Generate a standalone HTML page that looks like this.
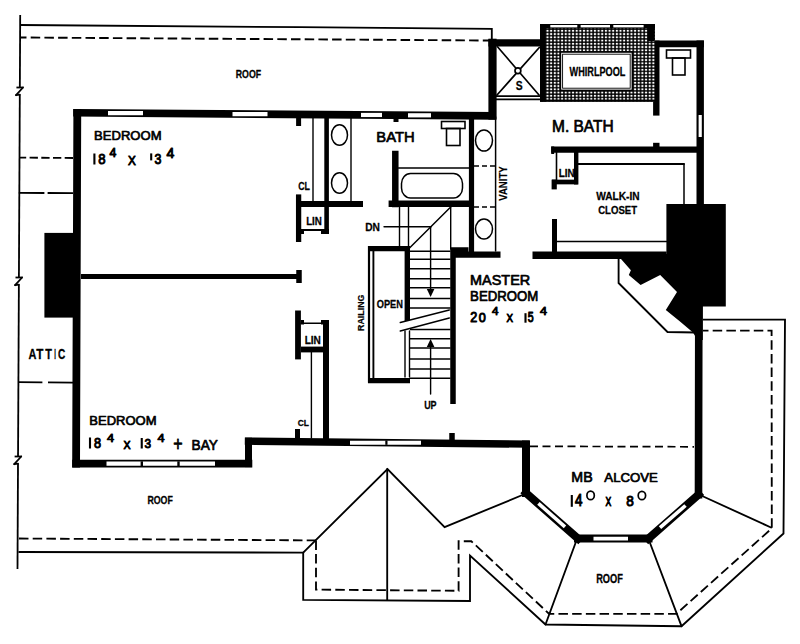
<!DOCTYPE html>
<html><head><meta charset="utf-8"><style>
html,body{margin:0;padding:0;background:#fff;}
svg{display:block;}
text{font-family:"Liberation Sans",sans-serif;}
</style></head><body>
<svg width="800" height="644" viewBox="0 0 800 644">
<rect width="800" height="644" fill="#fff"/>
<g stroke="#000" fill="none">
<line x1="20.2" y1="15" x2="19.845555555555556" y2="87.5" stroke-width="1.8" stroke-linecap="butt"/>
<line x1="19.810844444444445" y1="94.6" x2="18.916666666666664" y2="277.5" stroke-width="1.8" stroke-linecap="butt"/>
<line x1="18.881955555555553" y1="284.6" x2="18.041555555555554" y2="456.5" stroke-width="1.8" stroke-linecap="butt"/>
<line x1="18.006844444444443" y1="463.6" x2="17.491555555555554" y2="569" stroke-width="1.8" stroke-linecap="butt"/>
<line x1="16.428444444444445" y1="87.5" x2="23.428444444444445" y2="87.5" stroke-width="1.8" stroke-linecap="butt"/>
<line x1="23.028444444444442" y1="87.5" x2="16.028444444444442" y2="95.2" stroke-width="1.8" stroke-linecap="round"/>
<line x1="16.028444444444442" y1="95.2" x2="19.828444444444443" y2="94.6" stroke-width="1.8" stroke-linecap="round"/>
<line x1="15.499555555555554" y1="277.5" x2="22.499555555555556" y2="277.5" stroke-width="1.8" stroke-linecap="butt"/>
<line x1="22.099555555555554" y1="277.5" x2="15.099555555555554" y2="285.2" stroke-width="1.8" stroke-linecap="round"/>
<line x1="15.099555555555554" y1="285.2" x2="18.899555555555555" y2="284.6" stroke-width="1.8" stroke-linecap="round"/>
<line x1="14.624444444444444" y1="456.5" x2="21.624444444444446" y2="456.5" stroke-width="1.8" stroke-linecap="butt"/>
<line x1="21.224444444444444" y1="456.5" x2="14.224444444444444" y2="464.2" stroke-width="1.8" stroke-linecap="round"/>
<line x1="14.224444444444444" y1="464.2" x2="18.024444444444445" y2="463.6" stroke-width="1.8" stroke-linecap="round"/>
<polyline points="20,25 300,27.2 491.8,28.8 491.8,39" fill="none" stroke-width="1.85" stroke-linejoin="miter"/>
<line x1="20" y1="37.5" x2="490" y2="40.5" stroke-width="1.9" stroke-dasharray="9.5 4.2" stroke-dashoffset="3"/>
<line x1="19.2" y1="157.6" x2="73" y2="158" stroke-width="1.8" stroke-dasharray="8.3 3.4" stroke-dashoffset="1.3"/>
<line x1="18.8" y1="192.8" x2="73" y2="193.2" stroke-width="1.8" stroke-dasharray="25.6 3.2 40" stroke-dashoffset="0"/>
<line x1="18.4" y1="382.2" x2="73" y2="382.6" stroke-width="1.8" stroke-dasharray="24 5.6 40" stroke-dashoffset="0"/>
<line x1="19" y1="538.5" x2="316" y2="540.4" stroke-width="1.85" stroke-dasharray="9.5 4.2" stroke-dashoffset="0"/>
<polyline points="18.5,552 303.2,552.6 303.2,599.8 470,601 470,555.5 545.5,624.5 681.5,626.2 783.5,533.5 785,319.6 703,319.6" fill="none" stroke-width="1.85" stroke-linejoin="miter"/>
<polyline points="316,540.4 316,589.6 458.6,590.8 458.6,541.2 471.3,541.2 549,613.8 676.4,613.8 771.8,528.4 771.6,330.6 703,330.6" fill="none" stroke-width="1.85" stroke-dasharray="9.5 4.2" stroke-linejoin="miter"/>
<polyline points="303.2,552.6 387.5,469 444.6,527.2 524.8,494" fill="none" stroke-width="1.85" stroke-linejoin="miter"/>
<line x1="387.2" y1="469" x2="387.2" y2="600" stroke-width="1.85" stroke-linecap="round"/>
<line x1="577" y1="539" x2="545.5" y2="624.5" stroke-width="1.85" stroke-linecap="round"/>
<line x1="648.5" y1="539" x2="681.5" y2="626.2" stroke-width="1.85" stroke-linecap="round"/>
<line x1="700" y1="495" x2="771" y2="527.5" stroke-width="1.85" stroke-linecap="round"/>
<polyline points="618.6,258.7 618.6,283 667.5,332 696,332.5" fill="none" stroke-width="1.85" stroke-linejoin="miter"/>
<line x1="530" y1="446.3" x2="694" y2="446.8" stroke-width="1.7" stroke-dasharray="8 4.5" stroke-dashoffset="0"/>
</g>
<g stroke="#000" fill="none">
<line x1="77" y1="112.75" x2="492" y2="115.8625" stroke-width="7.6" stroke-linecap="square"/>
<line x1="108" y1="113.11375" x2="143" y2="113.11375" stroke="#fff" stroke-width="4.2" stroke-linecap="butt"/>
<line x1="232.5" y1="114.0475" x2="267.5" y2="114.0475" stroke="#fff" stroke-width="4.2" stroke-linecap="butt"/>
<line x1="361" y1="114.95875" x2="382" y2="114.95875" stroke="#fff" stroke-width="4.2" stroke-linecap="butt"/>
<line x1="408" y1="115.31875" x2="431" y2="115.31875" stroke="#fff" stroke-width="4.2" stroke-linecap="butt"/>
<line x1="77.3" y1="112.9" x2="76.1" y2="463.5" stroke-width="7.8" stroke-linecap="square"/>
<line x1="76" y1="463.6" x2="248.5" y2="463.6" stroke-width="7.6" stroke-linecap="square"/>
<line x1="106.5" y1="463.6" x2="215" y2="463.6" stroke="#fff" stroke-width="4.2" stroke-linecap="butt"/>
<line x1="141.8" y1="461.3" x2="141.8" y2="466" stroke-width="2.4" stroke-linecap="butt"/>
<line x1="178.5" y1="461.3" x2="178.5" y2="466" stroke-width="2.4" stroke-linecap="butt"/>
<line x1="248.5" y1="441.2" x2="248.5" y2="463.6" stroke-width="7.0" stroke-linecap="square"/>
<line x1="248.5" y1="441.2" x2="526" y2="444.11375" stroke-width="7.4" stroke-linecap="square"/>
<line x1="350" y1="442.63325" x2="421" y2="442.63325" stroke="#fff" stroke-width="4.0" stroke-linecap="butt"/>
<line x1="386.4" y1="440.44375" x2="386.4" y2="444.84375" stroke-width="2.2" stroke-linecap="butt"/>
<line x1="452" y1="433" x2="452" y2="441" stroke-width="5.5" stroke-linecap="butt"/>
<line x1="526" y1="444.5" x2="526" y2="493" stroke-width="8" stroke-linecap="square"/>
<line x1="526" y1="493" x2="578" y2="538.6" stroke-width="8" stroke-linecap="square"/>
<line x1="578" y1="538.6" x2="648.5" y2="538.6" stroke-width="8" stroke-linecap="square"/>
<line x1="648.5" y1="538.6" x2="698.5" y2="494.6" stroke-width="8" stroke-linecap="square"/>
<line x1="698.5" y1="494.6" x2="698.8" y2="305" stroke-width="7.6" stroke-linecap="square"/>
<line x1="538.4" y1="503.4" x2="565" y2="526.8" stroke="#fff" stroke-width="3.6" stroke-linecap="butt"/>
<line x1="593.5" y1="538.6" x2="628" y2="538.6" stroke="#fff" stroke-width="3.8" stroke-linecap="butt"/>
<line x1="660" y1="527.7" x2="685.5" y2="505.5" stroke="#fff" stroke-width="3.6" stroke-linecap="butt"/>
<line x1="700.2" y1="40.6" x2="700.2" y2="206" stroke-width="7.4" stroke-linecap="butt"/>
<line x1="700.2" y1="115" x2="700.2" y2="137" stroke="#fff" stroke-width="3.2" stroke-linecap="butt"/>
<rect x="44.4" y="232.9" width="31" height="84.7" fill="#000" stroke="none"/>
<polygon points="666.4,204 725.8,204 725.8,306.5 702.8,306.5 702.8,340 697.5,340 693,332.4 679.7,321.2 665.8,310 677,291.9 660.2,275.1 640.6,285 628.8,275.1 630.9,270.3 621,259 621,254 666.4,254" fill="#000" stroke="none"/>
<line x1="653" y1="43.9" x2="703.9" y2="43.9" stroke-width="6.6" stroke-linecap="butt"/>
<line x1="656.3" y1="40.6" x2="656.3" y2="115.6" stroke-width="6.4" stroke-linecap="butt"/>
<line x1="656.3" y1="142.8" x2="656.3" y2="150" stroke-width="6.4" stroke-linecap="butt"/>
<line x1="492.5" y1="42.8" x2="492.5" y2="115.5" stroke-width="8.2" stroke-linecap="square"/>
<line x1="492" y1="42.8" x2="540" y2="42.8" stroke-width="7.2" stroke-linecap="square"/>
<line x1="395.3" y1="154" x2="395.3" y2="204" stroke-width="6.5" stroke-linecap="square"/>
<line x1="396" y1="117" x2="396" y2="122" stroke-width="5" stroke-linecap="butt"/>
<line x1="388.6" y1="203.8" x2="471.5" y2="203.8" stroke-width="6.4" stroke-linecap="butt"/>
<line x1="471.5" y1="116" x2="471.5" y2="253.5" stroke-width="5.2" stroke-linecap="square"/>
<line x1="368" y1="248.6" x2="409" y2="248.6" stroke-width="5.2" stroke-linecap="butt"/>
<line x1="451" y1="254.7" x2="500.5" y2="254.7" stroke-width="6.2" stroke-linecap="butt"/>
<rect x="451" y="247.25" width="17.5" height="5" fill="#000" stroke="none"/>
<line x1="453" y1="249" x2="453" y2="404" stroke-width="5.5" stroke-linecap="butt"/>
<line x1="407.3" y1="246" x2="407.3" y2="321" stroke-width="5.4" stroke-linecap="butt"/>
<line x1="368" y1="380.6" x2="410" y2="380.6" stroke-width="5.2" stroke-linecap="butt"/>
<line x1="81" y1="276.5" x2="299" y2="276.5" stroke-width="5.2" stroke-linecap="butt"/>
<line x1="299" y1="270" x2="299" y2="283" stroke-width="5.5" stroke-linecap="butt"/>
<line x1="326.6" y1="116" x2="326.6" y2="234" stroke-width="4.6" stroke-linecap="butt"/>
<line x1="296" y1="204" x2="363" y2="204" stroke-width="5.8" stroke-linecap="butt"/>
<line x1="298.6" y1="194.4" x2="298.6" y2="242" stroke-width="5.3" stroke-linecap="butt"/>
<line x1="302.5" y1="229" x2="302.5" y2="234" stroke-width="3" stroke-linecap="butt"/>
<rect x="321" y="229" width="8" height="5" fill="#000" stroke="none"/>
<line x1="298.6" y1="117" x2="298.6" y2="126" stroke-width="5" stroke-linecap="butt"/>
<line x1="298" y1="310.5" x2="298" y2="359.4" stroke-width="5.8" stroke-linecap="butt"/>
<line x1="326" y1="320" x2="326" y2="441" stroke-width="6" stroke-linecap="butt"/>
<line x1="301" y1="349.5" x2="323" y2="349.5" stroke-width="5.8" stroke-linecap="butt"/>
<line x1="302.5" y1="320" x2="302.5" y2="324.5" stroke-width="3" stroke-linecap="butt"/>
<line x1="325" y1="320" x2="325" y2="324.5" stroke-width="8" stroke-linecap="butt"/>
<line x1="297.5" y1="429" x2="297.5" y2="439" stroke-width="5" stroke-linecap="butt"/>
<line x1="551.2" y1="149.6" x2="697" y2="149.6" stroke-width="6.1" stroke-linecap="butt"/>
<line x1="556.5" y1="152" x2="556.5" y2="181" stroke-width="1.6" stroke-linecap="butt"/>
<rect x="551.6" y="179.6" width="5.2" height="9.8" fill="#000" stroke="none"/>
<rect x="551.2" y="146.5" width="3" height="7.5" fill="#000" stroke="none"/>
<line x1="576.2" y1="152" x2="576.2" y2="184.5" stroke-width="4.4" stroke-linecap="butt"/>
<line x1="552" y1="182" x2="577.7" y2="182" stroke-width="4.7" stroke-linecap="butt"/>
<line x1="554.5" y1="219" x2="554.5" y2="259" stroke-width="5" stroke-linecap="butt"/>
<line x1="532.5" y1="255.2" x2="666.6" y2="255.2" stroke-width="7.5" stroke-linecap="butt"/>
</g>
<g stroke="#000" fill="none">
<line x1="497.5" y1="46.8" x2="539" y2="95" stroke-width="1.7" stroke-linecap="round"/>
<line x1="539.3" y1="47.5" x2="497" y2="95" stroke-width="1.7" stroke-linecap="round"/>
<circle cx="517.9" cy="70.8" r="2.9" fill="#fff" stroke-width="1.7"/>
<line x1="496" y1="96.1" x2="540" y2="96.1" stroke-width="1.8" stroke-linecap="round"/>
<line x1="496" y1="99.4" x2="540" y2="99.4" stroke-width="1.6" stroke-linecap="round"/>
<line x1="313" y1="117" x2="313" y2="201" stroke-width="1.4" stroke-linecap="round"/>
<line x1="351" y1="117" x2="351" y2="201" stroke-width="1.4" stroke-linecap="round"/>
<line x1="301" y1="230" x2="324" y2="230" stroke-width="1.85" stroke-linecap="round"/>
<ellipse cx="339.5" cy="135" rx="8" ry="10.2" stroke-width="1.5"/>
<ellipse cx="339.5" cy="183" rx="8" ry="10.2" stroke-width="1.5"/>
<line x1="301" y1="323.3" x2="323" y2="323.3" stroke-width="1.5" stroke-linecap="round"/>
<line x1="311.4" y1="352" x2="311.4" y2="438" stroke-width="1.4" stroke-linecap="round"/>
<line x1="398.5" y1="168" x2="469" y2="168" stroke-width="1.4" stroke-linecap="round"/>
<rect x="401.5" y="173.5" width="61" height="24.5" rx="9" ry="10" stroke-width="1.5"/>
<rect x="441.5" y="121.5" width="23.5" height="7" stroke-width="1.6"/>
<rect x="446.5" y="128.5" width="13.5" height="17" stroke-width="1.6"/>
<line x1="495.6" y1="117" x2="495.6" y2="251" stroke-width="1.5" stroke-linecap="round"/>
<ellipse cx="484" cy="140.5" rx="8.5" ry="10.5" stroke-width="1.5"/>
<ellipse cx="484" cy="229" rx="8.5" ry="10" stroke-width="1.5"/>
<line x1="474" y1="166" x2="495.6" y2="166" stroke-width="1.4" stroke-dasharray="5 3" stroke-dashoffset="0"/>
<line x1="474" y1="207" x2="495.6" y2="207" stroke-width="1.4" stroke-dasharray="5 3" stroke-dashoffset="0"/>
<line x1="399.5" y1="207" x2="399.5" y2="246" stroke-width="1.4" stroke-linecap="round"/>
<line x1="408.5" y1="207" x2="408.5" y2="246" stroke-width="1.4" stroke-linecap="round"/>
<line x1="450.7" y1="207" x2="450.7" y2="249" stroke-width="1.4" stroke-linecap="round"/>
<line x1="408.5" y1="249" x2="450.7" y2="207" stroke-width="1.5" stroke-linecap="round"/>
<line x1="384" y1="226.8" x2="431" y2="226.8" stroke-width="1.4" stroke-linecap="round"/>
<line x1="430.6" y1="226.8" x2="430.6" y2="290" stroke-width="1.4" stroke-linecap="round"/>
<polygon points="426.8,289 434.4,289 430.6,297" fill="#000" stroke="none"/>
<line x1="410" y1="251.2" x2="450.5" y2="251.2" stroke-width="1.5" stroke-linecap="butt"/>
<line x1="410" y1="259.25" x2="450.5" y2="259.25" stroke-width="1.5" stroke-linecap="butt"/>
<line x1="410" y1="268.8" x2="450.5" y2="268.8" stroke-width="1.5" stroke-linecap="butt"/>
<line x1="410" y1="278.75" x2="450.5" y2="278.75" stroke-width="1.5" stroke-linecap="butt"/>
<line x1="410" y1="287.8" x2="450.5" y2="287.8" stroke-width="1.5" stroke-linecap="butt"/>
<line x1="410" y1="298.4" x2="450.5" y2="298.4" stroke-width="1.5" stroke-linecap="butt"/>
<line x1="410" y1="308" x2="450.5" y2="308" stroke-width="1.5" stroke-linecap="butt"/>
<line x1="410" y1="329.6" x2="450.5" y2="329.6" stroke-width="1.5" stroke-linecap="butt"/>
<line x1="410" y1="338.7" x2="450.5" y2="338.7" stroke-width="1.5" stroke-linecap="butt"/>
<line x1="410" y1="348" x2="450.5" y2="348" stroke-width="1.5" stroke-linecap="butt"/>
<line x1="410" y1="358.9" x2="450.5" y2="358.9" stroke-width="1.5" stroke-linecap="butt"/>
<line x1="410" y1="369" x2="450.5" y2="369" stroke-width="1.5" stroke-linecap="butt"/>
<line x1="410" y1="378.3" x2="450.5" y2="378.3" stroke-width="1.5" stroke-linecap="butt"/>
<polygon points="400.3,322.5 449.3,310 449.3,318 400.3,331" fill="#fff" stroke="none"/>
<line x1="400.3" y1="322.5" x2="449.3" y2="310" stroke-width="1.5" stroke-linecap="round"/>
<line x1="400.3" y1="331" x2="449.3" y2="318" stroke-width="1.5" stroke-linecap="round"/>
<line x1="430.6" y1="344" x2="430.6" y2="394" stroke-width="1.4" stroke-linecap="round"/>
<polygon points="426.8,347 434.4,347 430.6,339" fill="#000" stroke="none"/>
<line x1="369" y1="246" x2="369" y2="382.7" stroke-width="2.2" stroke-linecap="butt"/>
<line x1="373.4" y1="251" x2="373.4" y2="378" stroke-width="1.9" stroke-linecap="butt"/>
<line x1="405" y1="331" x2="405" y2="377" stroke-width="1.4" stroke-linecap="round"/>
<line x1="409.5" y1="331" x2="409.5" y2="377" stroke-width="1.4" stroke-linecap="round"/>
<line x1="577.7" y1="164" x2="684" y2="164" stroke-width="1.9" stroke-linecap="round"/>
<line x1="684" y1="164" x2="684" y2="204" stroke-width="1.5" stroke-linecap="round"/>
<line x1="557" y1="241.6" x2="666.6" y2="241.6" stroke-width="1.5" stroke-linecap="round"/>
<rect x="666.5" y="50" width="24" height="8" stroke-width="1.6"/>
<rect x="672.5" y="58" width="12.5" height="17" stroke-width="1.6"/>
</g>
<defs><pattern id="hp" width="3.65" height="3.25" patternUnits="userSpaceOnUse" x="545.65" y="29.15"><rect width="3.65" height="3.25" fill="#000"/><rect x="0.8" y="0.7" width="2.1" height="1.9" fill="#fff"/></pattern></defs>
<rect x="540" y="24" width="115" height="77.6" fill="url(#hp)"/>
<rect x="540" y="24" width="5.7" height="77.6" fill="#000" stroke="none"/>
<rect x="540" y="24" width="115" height="4.5" fill="#000" stroke="none"/>
<rect x="550.3" y="25" width="27.0" height="2.4" fill="#fff" stroke="none"/>
<rect x="580.6" y="25" width="29.399999999999977" height="2.4" fill="#fff" stroke="none"/>
<rect x="613.3" y="25" width="30.300000000000068" height="2.4" fill="#fff" stroke="none"/>
<rect x="540" y="99.6" width="115" height="2.2" fill="#000" stroke="none"/>
<rect x="647.6" y="24" width="7" height="17" fill="#000" stroke="none"/>
<g stroke="#000" fill="#fff">
<rect x="560.4" y="52" width="72" height="38.4" stroke-width="1.6"/>
<rect x="562.6" y="54.2" width="67.6" height="34" stroke-width="0.9"/>
</g>
<g fill="#000" stroke="none">
<text transform="matrix(0.08789 0 0 0.11056 235.725 77.864)" font-size="100" font-weight="bold" stroke="#000" stroke-width="0.25" vector-effect="non-scaling-stroke" stroke-linejoin="round">ROOF</text>
<text transform="matrix(0.08806 0 0 0.10070 147.425 503.774)" font-size="100" font-weight="bold" stroke="#000" stroke-width="0.25" vector-effect="non-scaling-stroke" stroke-linejoin="round">ROOF</text>
<text transform="matrix(0.09256 0 0 0.12324 596.125 582.752)" font-size="100" font-weight="bold" stroke="#000" stroke-width="0.25" vector-effect="non-scaling-stroke" stroke-linejoin="round">ROOF</text>
<text transform="matrix(0.10972 0 0 0.14130 28.375 359.275)" font-size="100" font-weight="bold" stroke="#000" stroke-width="0.25" vector-effect="non-scaling-stroke" stroke-linejoin="round">A</text>
<text transform="matrix(0.11721 0 0 0.14130 36.325 359.275)" font-size="100" font-weight="bold" stroke="#000" stroke-width="0.25" vector-effect="non-scaling-stroke" stroke-linejoin="round">T</text>
<text transform="matrix(0.10902 0 0 0.14130 45.225 359.275)" font-size="100" font-weight="bold" stroke="#000" stroke-width="0.25" vector-effect="non-scaling-stroke" stroke-linejoin="round">T</text>
<text transform="matrix(0.05893 0 0 0.14130 54.325 359.275)" font-size="100" font-weight="bold" stroke="#000" stroke-width="0.25" vector-effect="non-scaling-stroke" stroke-linejoin="round">I</text>
<text transform="matrix(0.10069 0 0 0.13732 58.025 359.138)" font-size="100" font-weight="bold" stroke="#000" stroke-width="0.25" vector-effect="non-scaling-stroke" stroke-linejoin="round">C</text>
<text transform="matrix(0.13059 0 0 0.13099 94.100 140.119)" font-size="100" stroke="#000" stroke-width="0.7" vector-effect="non-scaling-stroke" stroke-linejoin="round">BEDROOM</text>
<text transform="matrix(0.13153 0 0 0.15211 98.225 164.373)" font-size="100" stroke="#000" stroke-width="0.95" vector-effect="non-scaling-stroke" stroke-linejoin="round">8</text>
<text transform="matrix(0.12252 0 0 0.13478 109.475 157.025)" font-size="100" stroke="#000" stroke-width="0.95" vector-effect="non-scaling-stroke" stroke-linejoin="round">4</text>
<text transform="matrix(0.11729 0 0 0.13116 127.975 164.525)" font-size="100" stroke="#000" stroke-width="0.95" vector-effect="non-scaling-stroke" stroke-linejoin="round">X</text>
<text transform="matrix(0.12342 0 0 0.14085 154.475 164.134)" font-size="100" stroke="#000" stroke-width="0.95" vector-effect="non-scaling-stroke" stroke-linejoin="round">3</text>
<text transform="matrix(0.14054 0 0 0.14493 166.475 157.725)" font-size="100" stroke="#000" stroke-width="0.95" vector-effect="non-scaling-stroke" stroke-linejoin="round">4</text>
<text transform="matrix(0.14759 0 0 0.14928 376.350 141.650)" font-size="100" stroke="#000" stroke-width="0.7" vector-effect="non-scaling-stroke" stroke-linejoin="round">BATH</text>
<text transform="matrix(0.15477 0 0 0.16232 552.050 131.850)" font-size="100" stroke="#000" stroke-width="0.7" vector-effect="non-scaling-stroke" stroke-linejoin="round">M. BATH</text>
<text transform="matrix(0.09157 0 0 0.12324 569.525 75.552)" font-size="100" font-weight="bold" stroke="#000" stroke-width="0.25" vector-effect="non-scaling-stroke" stroke-linejoin="round">WHIRLPOOL</text>
<text transform="matrix(0.10301 0 0 0.11901 515.825 89.556)" font-size="100" font-weight="bold" stroke="#000" stroke-width="0.25" vector-effect="non-scaling-stroke" stroke-linejoin="round">S</text>
<text transform="matrix(0.08801 0 0 0.10211 298.125 189.773)" font-size="100" font-weight="bold" stroke="#000" stroke-width="0.25" vector-effect="non-scaling-stroke" stroke-linejoin="round">CL</text>
<text transform="matrix(0.09783 0 0 0.10507 306.125 224.875)" font-size="100" font-weight="bold" stroke="#000" stroke-width="0.25" vector-effect="non-scaling-stroke" stroke-linejoin="round">LIN</text>
<text transform="matrix(0.10208 0 0 0.11232 365.125 230.875)" font-size="100" font-weight="bold" stroke="#000" stroke-width="0.25" vector-effect="non-scaling-stroke" stroke-linejoin="round">DN</text>
<text transform="matrix(0.09969 0 0 0.10797 558.625 176.575)" font-size="100" font-weight="bold" stroke="#000" stroke-width="0.25" vector-effect="non-scaling-stroke" stroke-linejoin="round">LIN</text>
<text transform="matrix(0.10164 0 0 0.10797 596.125 199.575)" font-size="100" font-weight="bold" stroke="#000" stroke-width="0.25" vector-effect="non-scaling-stroke" stroke-linejoin="round">WALK-IN</text>
<text transform="matrix(0.09605 0 0 0.10493 598.125 214.070)" font-size="100" font-weight="bold" stroke="#000" stroke-width="0.25" vector-effect="non-scaling-stroke" stroke-linejoin="round">CLOSET</text>
<text transform="matrix(0.14418 0 0 0.13803 470.100 284.762)" font-size="100" stroke="#000" stroke-width="0.7" vector-effect="non-scaling-stroke" stroke-linejoin="round">MASTER</text>
<text transform="matrix(0.13224 0 0 0.14859 470.100 301.251)" font-size="100" stroke="#000" stroke-width="0.7" vector-effect="non-scaling-stroke" stroke-linejoin="round">BEDROOM</text>
<text transform="matrix(0.12613 0 0 0.13786 470.275 322.225)" font-size="100" stroke="#000" stroke-width="0.95" vector-effect="non-scaling-stroke" stroke-linejoin="round">2</text>
<text transform="matrix(0.12613 0 0 0.13592 478.775 322.089)" font-size="100" stroke="#000" stroke-width="0.95" vector-effect="non-scaling-stroke" stroke-linejoin="round">0</text>
<text transform="matrix(0.11622 0 0 0.11667 492.075 315.325)" font-size="100" stroke="#000" stroke-width="0.95" vector-effect="non-scaling-stroke" stroke-linejoin="round">4</text>
<text transform="matrix(0.09774 0 0 0.11667 506.375 322.225)" font-size="100" stroke="#000" stroke-width="0.95" vector-effect="non-scaling-stroke" stroke-linejoin="round">X</text>
<text transform="matrix(0.10541 0 0 0.13786 527.675 322.087)" font-size="100" stroke="#000" stroke-width="0.95" vector-effect="non-scaling-stroke" stroke-linejoin="round">5</text>
<text transform="matrix(0.12613 0 0 0.11667 539.875 315.325)" font-size="100" stroke="#000" stroke-width="0.95" vector-effect="non-scaling-stroke" stroke-linejoin="round">4</text>
<text transform="matrix(0.09224 0 0 0.11620 376.725 308.259)" font-size="100" font-weight="bold" stroke="#000" stroke-width="0.25" vector-effect="non-scaling-stroke" stroke-linejoin="round">OPEN</text>
<text transform="matrix(0.10093 0 0 0.11232 304.625 343.875)" font-size="100" font-weight="bold" stroke="#000" stroke-width="0.25" vector-effect="non-scaling-stroke" stroke-linejoin="round">LIN</text>
<text transform="matrix(0.08957 0 0 0.11071 424.125 408.764)" font-size="100" font-weight="bold" stroke="#000" stroke-width="0.25" vector-effect="non-scaling-stroke" stroke-linejoin="round">UP</text>
<text transform="matrix(0.08427 0 0 0.09507 297.625 425.780)" font-size="100" font-weight="bold" stroke="#000" stroke-width="0.25" vector-effect="non-scaling-stroke" stroke-linejoin="round">CL</text>
<text transform="matrix(0.13030 0 0 0.13099 89.350 424.519)" font-size="100" stroke="#000" stroke-width="0.7" vector-effect="non-scaling-stroke" stroke-linejoin="round">BEDROOM</text>
<text transform="matrix(0.12703 0 0 0.14155 93.975 447.883)" font-size="100" stroke="#000" stroke-width="0.95" vector-effect="non-scaling-stroke" stroke-linejoin="round">8</text>
<text transform="matrix(0.12703 0 0 0.10942 106.975 441.525)" font-size="100" stroke="#000" stroke-width="0.95" vector-effect="non-scaling-stroke" stroke-linejoin="round">4</text>
<text transform="matrix(0.10602 0 0 0.11667 123.475 448.525)" font-size="100" stroke="#000" stroke-width="0.95" vector-effect="non-scaling-stroke" stroke-linejoin="round">X</text>
<text transform="matrix(0.11802 0 0 0.13451 144.475 447.890)" font-size="100" stroke="#000" stroke-width="0.95" vector-effect="non-scaling-stroke" stroke-linejoin="round">3</text>
<text transform="matrix(0.12703 0 0 0.10942 157.475 441.525)" font-size="100" stroke="#000" stroke-width="0.95" vector-effect="non-scaling-stroke" stroke-linejoin="round">4</text>
<text transform="matrix(0.16068 0 0 0.20862 173.250 451.050)" font-size="100" stroke="#000" stroke-width="0.7" vector-effect="non-scaling-stroke" stroke-linejoin="round">+</text>
<text transform="matrix(0.13662 0 0 0.15217 191.600 450.250)" font-size="100" stroke="#000" stroke-width="0.7" vector-effect="non-scaling-stroke" stroke-linejoin="round">BAY</text>
<text transform="matrix(0.14200 0 0 0.13913 571.350 482.350)" font-size="100" stroke="#000" stroke-width="0.7" vector-effect="non-scaling-stroke" stroke-linejoin="round">MB</text>
<text transform="matrix(0.13218 0 0 0.13521 604.350 482.215)" font-size="100" stroke="#000" stroke-width="0.7" vector-effect="non-scaling-stroke" stroke-linejoin="round">ALCOVE</text>
<text transform="matrix(0.13423 0 0 0.15725 575.075 506.325)" font-size="100" stroke="#000" stroke-width="0.95" vector-effect="non-scaling-stroke" stroke-linejoin="round">4</text>
<text transform="matrix(0.08647 0 0 0.13261 605.475 506.325)" font-size="100" stroke="#000" stroke-width="0.95" vector-effect="non-scaling-stroke" stroke-linejoin="round">X</text>
<text transform="matrix(0.13604 0 0 0.15282 626.175 506.172)" font-size="100" stroke="#000" stroke-width="0.95" vector-effect="non-scaling-stroke" stroke-linejoin="round">8</text>
<rect x="93.35000000000001" y="153.5" width="2.1" height="11.0"/>
<rect x="150.14999999999998" y="153.4" width="2.1" height="7.0"/>
<rect x="88.95" y="437.5" width="2.1" height="11.0"/>
<rect x="140.7" y="438" width="2.1" height="10.5"/>
<rect x="524.45" y="313.2" width="2.1" height="9.5"/>
<rect x="570.75" y="495" width="2.1" height="11.800000000000011"/>
<ellipse cx="590.6" cy="495.4" rx="3.7" ry="4.2" fill="none" stroke="#000" stroke-width="1.7"/>
<ellipse cx="641.9" cy="495.5" rx="3.7" ry="4.2" fill="none" stroke="#000" stroke-width="1.7"/>
<text transform="matrix(0 -0.09569 0.11594 0 507.400 200.700)" font-size="100" font-weight="bold" stroke="#000" stroke-width="0.2" vector-effect="non-scaling-stroke" stroke-linejoin="round">VANITY</text>
<text transform="matrix(0 -0.08832 0.09577 0 363.804 330.900)" font-size="100" font-weight="bold" stroke="#000" stroke-width="0.2" vector-effect="non-scaling-stroke" stroke-linejoin="round">RAILING</text>
</g>
</svg></body></html>
